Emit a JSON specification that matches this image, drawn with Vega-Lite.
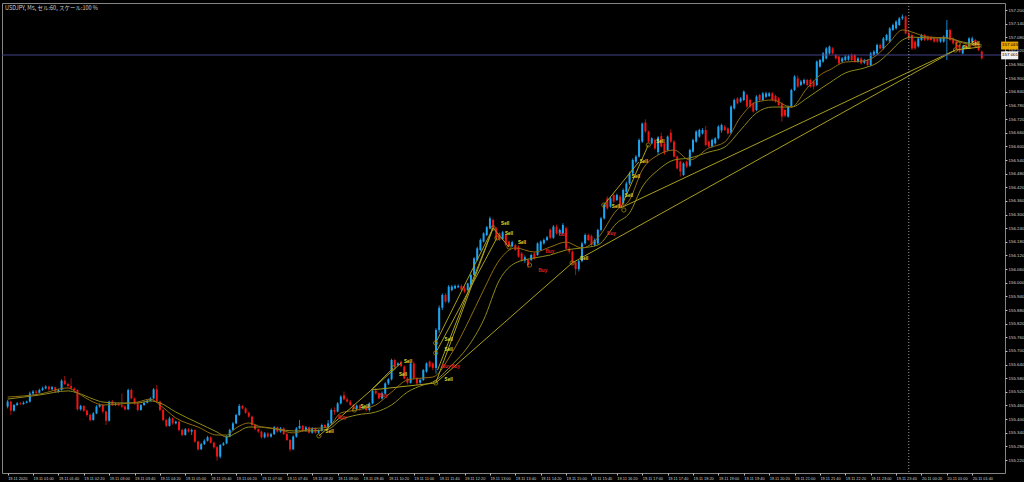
{
"$schema":"https://vega.github.io/schema/vega-lite/v6.json",
"width":1003,"height":470,
"autosize":{"type":"none"},
"padding":{"left":2,"top":3,"right":19,"bottom":9},
"background":"#000000",
"title":{"text":"USDJPY, M5, セル:60, スケール:100 %","anchor":"start","orient":"top","offset":-9,"dx":3,"fontSize":5.5,"fontWeight":"normal","font":"Noto Sans CJK JP","color":"#d0d0d0","frame":"group"},
"config":{"view":{"stroke":"#858585","strokeWidth":1},"font":"Liberation Sans","axis":{"labelOverlap":false,"labelFlush":false,"labelBound":false,"grid":false,"domain":false,"tickColor":"#bdbdbd","tickSize":2,"labelColor":"#cfcfcf","labelPadding":1,"tickCount":200},"axisX":{"labelFontSize":3.9,"labelAlign":"left"},"axisY":{"labelFontSize":4.4}},
"datasets":{
"k":[
{"i":0,"o":155.455,"c":155.477,"h":155.484,"l":155.447},
{"i":1,"o":155.477,"c":155.437,"h":155.481,"l":155.418},
{"i":2,"o":155.437,"c":155.462,"h":155.466,"l":155.433},
{"i":3,"o":155.462,"c":155.469,"h":155.475,"l":155.458},
{"i":4,"o":155.469,"c":155.466,"h":155.475,"l":155.461},
{"i":5,"o":155.466,"c":155.472,"h":155.478,"l":155.463},
{"i":6,"o":155.472,"c":155.477,"h":155.481,"l":155.469},
{"i":7,"o":155.477,"c":155.513,"h":155.521,"l":155.472},
{"i":8,"o":155.513,"c":155.521,"h":155.528,"l":155.506},
{"i":9,"o":155.521,"c":155.516,"h":155.528,"l":155.510},
{"i":10,"o":155.516,"c":155.528,"h":155.534,"l":155.513},
{"i":11,"o":155.528,"c":155.535,"h":155.543,"l":155.524},
{"i":12,"o":155.535,"c":155.543,"h":155.549,"l":155.531},
{"i":13,"o":155.543,"c":155.531,"h":155.547,"l":155.525},
{"i":14,"o":155.531,"c":155.540,"h":155.546,"l":155.528},
{"i":15,"o":155.540,"c":155.521,"h":155.543,"l":155.516},
{"i":16,"o":155.521,"c":155.528,"h":155.534,"l":155.516},
{"i":17,"o":155.528,"c":155.569,"h":155.575,"l":155.525},
{"i":18,"o":155.569,"c":155.554,"h":155.590,"l":155.550},
{"i":19,"o":155.554,"c":155.546,"h":155.560,"l":155.540},
{"i":20,"o":155.546,"c":155.535,"h":155.579,"l":155.531},
{"i":21,"o":155.535,"c":155.528,"h":155.540,"l":155.521},
{"i":22,"o":155.528,"c":155.443,"h":155.531,"l":155.437},
{"i":23,"o":155.443,"c":155.458,"h":155.463,"l":155.437},
{"i":24,"o":155.458,"c":155.437,"h":155.461,"l":155.431},
{"i":25,"o":155.437,"c":155.418,"h":155.443,"l":155.411},
{"i":26,"o":155.418,"c":155.396,"h":155.425,"l":155.389},
{"i":27,"o":155.396,"c":155.425,"h":155.431,"l":155.393},
{"i":28,"o":155.425,"c":155.455,"h":155.461,"l":155.422},
{"i":29,"o":155.455,"c":155.462,"h":155.469,"l":155.450},
{"i":30,"o":155.462,"c":155.433,"h":155.466,"l":155.425},
{"i":31,"o":155.433,"c":155.393,"h":155.437,"l":155.374},
{"i":32,"o":155.393,"c":155.477,"h":155.481,"l":155.389},
{"i":33,"o":155.477,"c":155.462,"h":155.484,"l":155.458},
{"i":34,"o":155.462,"c":155.466,"h":155.472,"l":155.458},
{"i":35,"o":155.466,"c":155.461,"h":155.472,"l":155.456},
{"i":36,"o":155.461,"c":155.455,"h":155.513,"l":155.449},
{"i":37,"o":155.455,"c":155.443,"h":155.461,"l":155.437},
{"i":38,"o":155.443,"c":155.528,"h":155.534,"l":155.440},
{"i":39,"o":155.528,"c":155.491,"h":155.535,"l":155.487},
{"i":40,"o":155.491,"c":155.469,"h":155.496,"l":155.463},
{"i":41,"o":155.469,"c":155.440,"h":155.475,"l":155.434},
{"i":42,"o":155.440,"c":155.462,"h":155.466,"l":155.437},
{"i":43,"o":155.462,"c":155.472,"h":155.477,"l":155.458},
{"i":44,"o":155.472,"c":155.481,"h":155.487,"l":155.469},
{"i":45,"o":155.481,"c":155.491,"h":155.496,"l":155.477},
{"i":46,"o":155.491,"c":155.531,"h":155.537,"l":155.487},
{"i":47,"o":155.531,"c":155.477,"h":155.550,"l":155.472},
{"i":48,"o":155.477,"c":155.440,"h":155.481,"l":155.434},
{"i":49,"o":155.440,"c":155.396,"h":155.446,"l":155.390},
{"i":50,"o":155.396,"c":155.370,"h":155.402,"l":155.364},
{"i":51,"o":155.370,"c":155.403,"h":155.411,"l":155.367},
{"i":52,"o":155.403,"c":155.381,"h":155.408,"l":155.375},
{"i":53,"o":155.381,"c":155.389,"h":155.393,"l":155.377},
{"i":54,"o":155.389,"c":155.352,"h":155.393,"l":155.346},
{"i":55,"o":155.352,"c":155.330,"h":155.358,"l":155.324},
{"i":56,"o":155.330,"c":155.355,"h":155.361,"l":155.327},
{"i":57,"o":155.355,"c":155.345,"h":155.361,"l":155.340},
{"i":58,"o":155.345,"c":155.352,"h":155.358,"l":155.330},
{"i":59,"o":155.352,"c":155.301,"h":155.355,"l":155.296},
{"i":60,"o":155.301,"c":155.267,"h":155.305,"l":155.261},
{"i":61,"o":155.267,"c":155.290,"h":155.296,"l":155.264},
{"i":62,"o":155.290,"c":155.305,"h":155.311,"l":155.286},
{"i":63,"o":155.305,"c":155.320,"h":155.326,"l":155.301},
{"i":64,"o":155.320,"c":155.296,"h":155.324,"l":155.292},
{"i":65,"o":155.296,"c":155.276,"h":155.301,"l":155.270},
{"i":66,"o":155.276,"c":155.235,"h":155.282,"l":155.217},
{"i":67,"o":155.235,"c":155.286,"h":155.290,"l":155.227},
{"i":68,"o":155.286,"c":155.293,"h":155.299,"l":155.282},
{"i":69,"o":155.293,"c":155.323,"h":155.329,"l":155.290},
{"i":70,"o":155.323,"c":155.352,"h":155.358,"l":155.320},
{"i":71,"o":155.352,"c":155.381,"h":155.387,"l":155.349},
{"i":72,"o":155.381,"c":155.418,"h":155.424,"l":155.378},
{"i":73,"o":155.418,"c":155.458,"h":155.466,"l":155.414},
{"i":74,"o":155.458,"c":155.447,"h":155.462,"l":155.443},
{"i":75,"o":155.447,"c":155.428,"h":155.452,"l":155.424},
{"i":76,"o":155.428,"c":155.411,"h":155.433,"l":155.406},
{"i":77,"o":155.411,"c":155.374,"h":155.415,"l":155.370},
{"i":78,"o":155.374,"c":155.355,"h":155.378,"l":155.351},
{"i":79,"o":155.355,"c":155.345,"h":155.359,"l":155.340},
{"i":80,"o":155.345,"c":155.320,"h":155.349,"l":155.314},
{"i":81,"o":155.320,"c":155.337,"h":155.343,"l":155.315},
{"i":82,"o":155.337,"c":155.323,"h":155.342,"l":155.318},
{"i":83,"o":155.323,"c":155.334,"h":155.340,"l":155.318},
{"i":84,"o":155.334,"c":155.364,"h":155.370,"l":155.330},
{"i":85,"o":155.364,"c":155.345,"h":155.368,"l":155.340},
{"i":86,"o":155.345,"c":155.359,"h":155.365,"l":155.340},
{"i":87,"o":155.359,"c":155.334,"h":155.364,"l":155.330},
{"i":88,"o":155.334,"c":155.308,"h":155.339,"l":155.304},
{"i":89,"o":155.308,"c":155.267,"h":155.312,"l":155.257},
{"i":90,"o":155.267,"c":155.323,"h":155.329,"l":155.264},
{"i":91,"o":155.323,"c":155.359,"h":155.365,"l":155.318},
{"i":92,"o":155.359,"c":155.370,"h":155.396,"l":155.355},
{"i":93,"o":155.370,"c":155.349,"h":155.374,"l":155.345},
{"i":94,"o":155.349,"c":155.364,"h":155.370,"l":155.345},
{"i":95,"o":155.364,"c":155.340,"h":155.368,"l":155.336},
{"i":96,"o":155.340,"c":155.359,"h":155.365,"l":155.336},
{"i":97,"o":155.359,"c":155.340,"h":155.364,"l":155.336},
{"i":98,"o":155.340,"c":155.349,"h":155.355,"l":155.336},
{"i":99,"o":155.349,"c":155.374,"h":155.380,"l":155.345},
{"i":100,"o":155.374,"c":155.364,"h":155.378,"l":155.359},
{"i":101,"o":155.364,"c":155.381,"h":155.396,"l":155.359},
{"i":102,"o":155.381,"c":155.440,"h":155.447,"l":155.374},
{"i":103,"o":155.440,"c":155.433,"h":155.452,"l":155.418},
{"i":104,"o":155.433,"c":155.469,"h":155.475,"l":155.430},
{"i":105,"o":155.469,"c":155.499,"h":155.505,"l":155.465},
{"i":106,"o":155.505,"c":155.487,"h":155.521,"l":155.483},
{"i":107,"o":155.487,"c":155.477,"h":155.495,"l":155.472},
{"i":108,"o":155.477,"c":155.462,"h":155.484,"l":155.458},
{"i":109,"o":155.462,"c":155.445,"h":155.466,"l":155.438},
{"i":110,"o":155.445,"c":155.460,"h":155.464,"l":155.440},
{"i":111,"o":155.460,"c":155.447,"h":155.464,"l":155.436},
{"i":112,"o":155.447,"c":155.452,"h":155.458,"l":155.442},
{"i":113,"o":155.452,"c":155.440,"h":155.458,"l":155.433},
{"i":114,"o":155.440,"c":155.469,"h":155.474,"l":155.433},
{"i":115,"o":155.469,"c":155.524,"h":155.530,"l":155.465},
{"i":116,"o":155.524,"c":155.513,"h":155.536,"l":155.508},
{"i":117,"o":155.513,"c":155.491,"h":155.517,"l":155.487},
{"i":118,"o":155.491,"c":155.512,"h":155.521,"l":155.486},
{"i":119,"o":155.512,"c":155.557,"h":155.562,"l":155.508},
{"i":120,"o":155.557,"c":155.575,"h":155.580,"l":155.550},
{"i":121,"o":155.575,"c":155.660,"h":155.666,"l":155.570},
{"i":122,"o":155.660,"c":155.631,"h":155.665,"l":155.627},
{"i":123,"o":155.638,"c":155.645,"h":155.650,"l":155.633},
{"i":124,"o":155.652,"c":155.633,"h":155.658,"l":155.628},
{"i":125,"o":155.631,"c":155.579,"h":155.636,"l":155.574},
{"i":126,"o":155.579,"c":155.560,"h":155.585,"l":155.553},
{"i":127,"o":155.560,"c":155.645,"h":155.650,"l":155.556},
{"i":128,"o":155.645,"c":155.580,"h":155.653,"l":155.575},
{"i":129,"o":155.580,"c":155.557,"h":155.585,"l":155.550},
{"i":130,"o":155.560,"c":155.572,"h":155.580,"l":155.555},
{"i":131,"o":155.572,"c":155.616,"h":155.620,"l":155.568},
{"i":132,"o":155.609,"c":155.645,"h":155.650,"l":155.604},
{"i":133,"o":155.653,"c":155.631,"h":155.658,"l":155.626},
{"i":134,"o":155.645,"c":155.625,"h":155.650,"l":155.615},
{"i":135,"o":155.625,"c":155.792,"h":155.800,"l":155.600},
{"i":136,"o":155.792,"c":155.890,"h":155.900,"l":155.780},
{"i":137,"o":155.890,"c":155.946,"h":155.953,"l":155.880},
{"i":138,"o":155.946,"c":155.917,"h":155.953,"l":155.910},
{"i":139,"o":155.917,"c":155.983,"h":155.990,"l":155.910},
{"i":140,"o":155.968,"c":155.983,"h":155.990,"l":155.962},
{"i":141,"o":155.975,"c":155.986,"h":155.992,"l":155.972},
{"i":142,"o":155.980,"c":155.986,"h":155.993,"l":155.976},
{"i":143,"o":155.986,"c":155.970,"h":155.992,"l":155.966},
{"i":144,"o":155.975,"c":155.961,"h":155.986,"l":155.955},
{"i":145,"o":155.968,"c":155.997,"h":156.000,"l":155.963},
{"i":146,"o":155.993,"c":156.034,"h":156.040,"l":155.990},
{"i":147,"o":156.034,"c":156.107,"h":156.113,"l":156.030},
{"i":148,"o":156.100,"c":156.151,"h":156.158,"l":156.095},
{"i":149,"o":156.144,"c":156.188,"h":156.195,"l":156.140},
{"i":150,"o":156.181,"c":156.217,"h":156.222,"l":156.177},
{"i":151,"o":156.210,"c":156.244,"h":156.250,"l":156.205},
{"i":152,"o":156.239,"c":156.283,"h":156.291,"l":156.235},
{"i":153,"o":156.276,"c":156.239,"h":156.283,"l":156.235},
{"i":154,"o":156.239,"c":156.195,"h":156.245,"l":156.190},
{"i":155,"o":156.217,"c":156.188,"h":156.222,"l":156.183},
{"i":156,"o":156.192,"c":156.222,"h":156.228,"l":156.188},
{"i":157,"o":156.210,"c":156.166,"h":156.215,"l":156.160},
{"i":158,"o":156.181,"c":156.159,"h":156.186,"l":156.155},
{"i":159,"o":156.160,"c":156.178,"h":156.185,"l":156.156},
{"i":160,"o":156.166,"c":156.144,"h":156.172,"l":156.140},
{"i":161,"o":156.159,"c":156.115,"h":156.164,"l":156.110},
{"i":162,"o":156.129,"c":156.100,"h":156.135,"l":156.093},
{"i":163,"o":156.098,"c":156.112,"h":156.120,"l":156.088},
{"i":164,"o":156.100,"c":156.078,"h":156.105,"l":156.065},
{"i":165,"o":156.100,"c":156.122,"h":156.128,"l":156.095},
{"i":166,"o":156.129,"c":156.107,"h":156.135,"l":156.102},
{"i":167,"o":156.122,"c":156.173,"h":156.178,"l":156.118},
{"i":168,"o":156.144,"c":156.181,"h":156.186,"l":156.140},
{"i":169,"o":156.173,"c":156.188,"h":156.195,"l":156.168},
{"i":170,"o":156.188,"c":156.200,"h":156.206,"l":156.183},
{"i":171,"o":156.234,"c":156.198,"h":156.239,"l":156.192},
{"i":172,"o":156.198,"c":156.247,"h":156.254,"l":156.193},
{"i":173,"o":156.247,"c":156.217,"h":156.256,"l":156.212},
{"i":174,"o":156.217,"c":156.232,"h":156.238,"l":156.210},
{"i":175,"o":156.217,"c":156.254,"h":156.262,"l":156.212},
{"i":176,"o":156.240,"c":156.150,"h":156.247,"l":156.145},
{"i":177,"o":156.150,"c":156.137,"h":156.158,"l":156.128},
{"i":178,"o":156.137,"c":156.088,"h":156.142,"l":156.080},
{"i":179,"o":156.090,"c":156.060,"h":156.095,"l":156.034},
{"i":180,"o":156.060,"c":156.095,"h":156.100,"l":156.050},
{"i":181,"o":156.095,"c":156.173,"h":156.180,"l":156.090},
{"i":182,"o":156.173,"c":156.210,"h":156.217,"l":156.168},
{"i":183,"o":156.210,"c":156.188,"h":156.216,"l":156.183},
{"i":184,"o":156.205,"c":156.166,"h":156.212,"l":156.160},
{"i":185,"o":156.166,"c":156.188,"h":156.195,"l":156.160},
{"i":186,"o":156.173,"c":156.232,"h":156.238,"l":156.168},
{"i":187,"o":156.232,"c":156.283,"h":156.290,"l":156.226},
{"i":188,"o":156.283,"c":156.342,"h":156.349,"l":156.278},
{"i":189,"o":156.371,"c":156.327,"h":156.380,"l":156.322},
{"i":190,"o":156.335,"c":156.371,"h":156.378,"l":156.330},
{"i":191,"o":156.386,"c":156.357,"h":156.395,"l":156.350},
{"i":192,"o":156.364,"c":156.386,"h":156.392,"l":156.360},
{"i":193,"o":156.379,"c":156.335,"h":156.386,"l":156.330},
{"i":194,"o":156.349,"c":156.408,"h":156.415,"l":156.342},
{"i":195,"o":156.400,"c":156.437,"h":156.445,"l":156.395},
{"i":196,"o":156.437,"c":156.481,"h":156.489,"l":156.430},
{"i":197,"o":156.481,"c":156.540,"h":156.547,"l":156.475},
{"i":198,"o":156.533,"c":156.555,"h":156.562,"l":156.525},
{"i":199,"o":156.555,"c":156.628,"h":156.635,"l":156.550},
{"i":200,"o":156.621,"c":156.700,"h":156.705,"l":156.615},
{"i":201,"o":156.705,"c":156.665,"h":156.719,"l":156.660},
{"i":202,"o":156.665,"c":156.621,"h":156.670,"l":156.615},
{"i":203,"o":156.613,"c":156.635,"h":156.640,"l":156.608},
{"i":204,"o":156.628,"c":156.591,"h":156.635,"l":156.585},
{"i":205,"o":156.575,"c":156.640,"h":156.645,"l":156.562},
{"i":206,"o":156.645,"c":156.599,"h":156.660,"l":156.594},
{"i":207,"o":156.613,"c":156.569,"h":156.618,"l":156.563},
{"i":208,"o":156.584,"c":156.643,"h":156.648,"l":156.578},
{"i":209,"o":156.660,"c":156.621,"h":156.675,"l":156.615},
{"i":210,"o":156.621,"c":156.555,"h":156.627,"l":156.550},
{"i":211,"o":156.555,"c":156.503,"h":156.560,"l":156.498},
{"i":212,"o":156.533,"c":156.489,"h":156.538,"l":156.467},
{"i":213,"o":156.474,"c":156.525,"h":156.530,"l":156.470},
{"i":214,"o":156.533,"c":156.511,"h":156.538,"l":156.505},
{"i":215,"o":156.515,"c":156.584,"h":156.590,"l":156.510},
{"i":216,"o":156.577,"c":156.628,"h":156.634,"l":156.572},
{"i":217,"o":156.621,"c":156.665,"h":156.671,"l":156.616},
{"i":218,"o":156.643,"c":156.672,"h":156.678,"l":156.638},
{"i":219,"o":156.657,"c":156.672,"h":156.680,"l":156.652},
{"i":220,"o":156.672,"c":156.606,"h":156.690,"l":156.600},
{"i":221,"o":156.621,"c":156.599,"h":156.626,"l":156.594},
{"i":222,"o":156.599,"c":156.628,"h":156.634,"l":156.594},
{"i":223,"o":156.613,"c":156.635,"h":156.641,"l":156.608},
{"i":224,"o":156.635,"c":156.687,"h":156.693,"l":156.630},
{"i":225,"o":156.670,"c":156.694,"h":156.700,"l":156.660},
{"i":226,"o":156.687,"c":156.672,"h":156.694,"l":156.667},
{"i":227,"o":156.679,"c":156.657,"h":156.684,"l":156.652},
{"i":228,"o":156.660,"c":156.775,"h":156.781,"l":156.655},
{"i":229,"o":156.767,"c":156.804,"h":156.810,"l":156.762},
{"i":230,"o":156.811,"c":156.789,"h":156.817,"l":156.784},
{"i":231,"o":156.797,"c":156.811,"h":156.817,"l":156.792},
{"i":232,"o":156.804,"c":156.841,"h":156.846,"l":156.799},
{"i":233,"o":156.826,"c":156.775,"h":156.832,"l":156.770},
{"i":234,"o":156.804,"c":156.775,"h":156.810,"l":156.770},
{"i":235,"o":156.789,"c":156.753,"h":156.795,"l":156.748},
{"i":236,"o":156.760,"c":156.819,"h":156.825,"l":156.755},
{"i":237,"o":156.826,"c":156.804,"h":156.831,"l":156.799},
{"i":238,"o":156.804,"c":156.833,"h":156.839,"l":156.799},
{"i":239,"o":156.818,"c":156.833,"h":156.840,"l":156.812},
{"i":240,"o":156.822,"c":156.833,"h":156.839,"l":156.817},
{"i":241,"o":156.833,"c":156.804,"h":156.839,"l":156.799},
{"i":242,"o":156.822,"c":156.797,"h":156.827,"l":156.792},
{"i":243,"o":156.811,"c":156.782,"h":156.817,"l":156.777},
{"i":244,"o":156.789,"c":156.731,"h":156.794,"l":156.709},
{"i":245,"o":156.760,"c":156.735,"h":156.765,"l":156.728},
{"i":246,"o":156.731,"c":156.775,"h":156.780,"l":156.726},
{"i":247,"o":156.775,"c":156.848,"h":156.853,"l":156.770},
{"i":248,"o":156.848,"c":156.907,"h":156.913,"l":156.843},
{"i":249,"o":156.899,"c":156.863,"h":156.912,"l":156.858},
{"i":250,"o":156.870,"c":156.885,"h":156.892,"l":156.865},
{"i":251,"o":156.877,"c":156.892,"h":156.898,"l":156.872},
{"i":252,"o":156.892,"c":156.870,"h":156.897,"l":156.865},
{"i":253,"o":156.892,"c":156.863,"h":156.898,"l":156.858},
{"i":254,"o":156.885,"c":156.863,"h":156.890,"l":156.850},
{"i":255,"o":156.870,"c":156.973,"h":156.978,"l":156.865},
{"i":256,"o":156.951,"c":156.980,"h":156.985,"l":156.946},
{"i":257,"o":156.973,"c":157.009,"h":157.015,"l":156.968},
{"i":258,"o":156.987,"c":157.031,"h":157.037,"l":156.982},
{"i":259,"o":157.009,"c":157.039,"h":157.044,"l":157.004},
{"i":260,"o":157.031,"c":157.009,"h":157.037,"l":157.004},
{"i":261,"o":157.002,"c":156.987,"h":157.008,"l":156.982},
{"i":262,"o":156.995,"c":156.965,"h":157.000,"l":156.960},
{"i":263,"o":156.973,"c":156.987,"h":156.993,"l":156.968},
{"i":264,"o":156.980,"c":156.995,"h":157.002,"l":156.975},
{"i":265,"o":156.982,"c":156.997,"h":157.004,"l":156.977},
{"i":266,"o":157.002,"c":156.980,"h":157.010,"l":156.975},
{"i":267,"o":157.002,"c":156.973,"h":157.007,"l":156.968},
{"i":268,"o":156.973,"c":156.987,"h":156.993,"l":156.968},
{"i":269,"o":156.987,"c":156.965,"h":156.993,"l":156.960},
{"i":270,"o":156.968,"c":156.978,"h":156.985,"l":156.962},
{"i":271,"o":156.980,"c":156.958,"h":156.985,"l":156.950},
{"i":272,"o":156.958,"c":157.009,"h":157.015,"l":156.953},
{"i":273,"o":157.002,"c":157.017,"h":157.023,"l":156.997},
{"i":274,"o":157.009,"c":157.046,"h":157.052,"l":157.004},
{"i":275,"o":157.046,"c":157.031,"h":157.052,"l":157.026},
{"i":276,"o":157.031,"c":157.075,"h":157.081,"l":157.026},
{"i":277,"o":157.068,"c":157.090,"h":157.095,"l":157.063},
{"i":278,"o":157.061,"c":157.119,"h":157.125,"l":157.056},
{"i":279,"o":157.112,"c":157.134,"h":157.140,"l":157.107},
{"i":280,"o":157.119,"c":157.149,"h":157.155,"l":157.114},
{"i":281,"o":157.134,"c":157.163,"h":157.169,"l":157.129},
{"i":282,"o":157.163,"c":157.171,"h":157.180,"l":157.156},
{"i":283,"o":157.171,"c":157.097,"h":157.176,"l":157.092},
{"i":284,"o":157.097,"c":157.075,"h":157.112,"l":157.068},
{"i":285,"o":157.090,"c":157.031,"h":157.097,"l":157.024},
{"i":286,"o":157.061,"c":157.031,"h":157.066,"l":157.026},
{"i":287,"o":157.040,"c":157.075,"h":157.080,"l":157.035},
{"i":288,"o":157.068,"c":157.090,"h":157.095,"l":157.063},
{"i":289,"o":157.090,"c":157.068,"h":157.095,"l":157.063},
{"i":290,"o":157.083,"c":157.068,"h":157.088,"l":157.063},
{"i":291,"o":157.080,"c":157.068,"h":157.086,"l":157.062},
{"i":292,"o":157.075,"c":157.061,"h":157.080,"l":157.056},
{"i":293,"o":157.073,"c":157.061,"h":157.078,"l":157.055},
{"i":294,"o":157.061,"c":157.075,"h":157.080,"l":157.056},
{"i":295,"o":157.061,"c":157.083,"h":157.088,"l":157.056},
{"i":296,"o":157.075,"c":157.112,"h":157.156,"l":156.980},
{"i":297,"o":157.112,"c":157.068,"h":157.118,"l":157.063},
{"i":298,"o":157.075,"c":157.053,"h":157.080,"l":157.048},
{"i":299,"o":157.061,"c":157.031,"h":157.066,"l":157.026},
{"i":300,"o":157.046,"c":157.017,"h":157.051,"l":157.012},
{"i":301,"o":157.009,"c":157.039,"h":157.044,"l":157.004},
{"i":302,"o":157.046,"c":157.036,"h":157.051,"l":157.031},
{"i":303,"o":157.046,"c":157.075,"h":157.080,"l":157.041},
{"i":304,"o":157.061,"c":157.075,"h":157.083,"l":157.056},
{"i":305,"o":157.068,"c":157.039,"h":157.073,"l":157.034},
{"i":306,"o":157.053,"c":157.024,"h":157.058,"l":157.019},
{"i":307,"o":157.017,"c":156.987,"h":157.022,"l":156.982}
],
"ma":[
{"i":0,"f":155.497,"s":155.488},{"i":10,"f":155.510,"s":155.506},{"i":19,"f":155.537,"s":155.524},{"i":22,"f":155.515,"s":155.515},{"i":27,"f":155.475,"s":155.488},{"i":30,"f":155.462,"s":155.475},{"i":35,"f":155.466,"s":155.471},{"i":41,"f":155.475,"s":155.471},{"i":45,"f":155.488,"s":155.480},{"i":48,"f":155.462,"s":155.471},{"i":53,"f":155.405,"s":155.431},{"i":60,"f":155.365,"s":155.383},{"i":66,"f":155.330,"s":155.343},{"i":69,"f":155.330,"s":155.321},{"i":72,"f":155.361,"s":155.339},{"i":76,"f":155.383,"s":155.365},{"i":80,"f":155.365,"s":155.365},{"i":85,"f":155.356,"s":155.356},{"i":90,"f":155.339,"s":155.348},{"i":95,"f":155.356,"s":155.348},{"i":101,"f":155.365,"s":155.356},{"i":105,"f":155.427,"s":155.396},{"i":110,"f":155.440,"s":155.418},{"i":116,"f":155.462,"s":155.431},{"i":121,"f":155.519,"s":155.462},{"i":126,"f":155.572,"s":155.519},{"i":131,"f":155.581,"s":155.550},{"i":134,"f":155.585,"s":155.563},{"i":140,"f":155.691,"s":155.638},{"i":145,"f":155.823,"s":155.717},{"i":150,"f":155.968,"s":155.836},{"i":155,"f":156.100,"s":156.012},{"i":160,"f":156.153,"s":156.087},{"i":166,"f":156.135,"s":156.109},{"i":171,"f":156.157,"s":156.122},{"i":176,"f":156.179,"s":156.144},{"i":181,"f":156.153,"s":156.153},{"i":186,"f":156.197,"s":156.166},{"i":192,"f":156.320,"s":156.263},{"i":196,"f":156.364,"s":156.307},{"i":200,"f":156.496,"s":156.421},{"i":205,"f":156.562,"s":156.496},{"i":210,"f":156.584,"s":156.540},{"i":215,"f":156.540,"s":156.549},{"i":221,"f":156.593,"s":156.575},{"i":226,"f":156.619,"s":156.597},{"i":231,"f":156.729,"s":156.672},{"i":236,"f":156.795,"s":156.747},{"i":241,"f":156.804,"s":156.773},{"i":247,"f":156.773,"s":156.773},{"i":252,"f":156.857,"s":156.813},{"i":257,"f":156.923,"s":156.861},{"i":259,"f":156.936,"s":156.879},{"i":264,"f":156.971,"s":156.923},{"i":270,"f":156.976,"s":156.945},{"i":274,"f":157.002,"s":156.967},{"i":278,"f":157.059,"s":157.015},{"i":282,"f":157.112,"s":157.068},{"i":285,"f":157.103,"s":157.081},{"i":290,"f":157.081,"s":157.077},{"i":296,"f":157.077,"s":157.077},{"i":301,"f":157.055,"s":157.059},{"i":307,"f":157.037,"s":157.046}
],
"tl":[
{"g":1,"i":134.9,"p":155.559},{"g":1,"i":177.9,"p":156.087},
{"g":2,"i":177.9,"p":156.087},{"g":2,"i":298.7,"p":157.024},
{"g":3,"i":193.2,"p":156.329},{"g":3,"i":298.7,"p":157.024},
{"g":4,"i":134.9,"p":155.559},{"g":4,"i":153,"p":156.241},
{"g":5,"i":135.5,"p":155.616},{"g":5,"i":153,"p":156.241},
{"g":6,"i":134.9,"p":155.691},{"g":6,"i":154.2,"p":156.197},
{"g":7,"i":134.9,"p":155.735},{"g":7,"i":153,"p":156.241},
{"g":8,"i":98.1,"p":155.326},{"g":8,"i":114.6,"p":155.528},
{"g":9,"i":114.6,"p":155.528},{"g":9,"i":124,"p":155.647},
{"g":10,"i":114.6,"p":155.528},{"g":10,"i":121.5,"p":155.625},
{"g":11,"i":114.6,"p":155.528},{"g":11,"i":134.9,"p":155.559},
{"g":12,"i":193.2,"p":156.329},{"g":12,"i":201.9,"p":156.606},
{"g":13,"i":187.9,"p":156.342},{"g":13,"i":198.9,"p":156.531},
{"g":14,"i":153,"p":156.241},{"g":14,"i":158,"p":156.157},
{"g":15,"i":298.7,"p":157.024},{"g":15,"i":306.5,"p":157.037}
],
"cir":[
{"i":98.1,"p":155.326},{"i":109.3,"p":155.440},{"i":121.5,"p":155.625},{"i":134.9,"p":155.559},{"i":134.9,"p":155.691},{"i":134.9,"p":155.735},{"i":153,"p":156.241},{"i":154.2,"p":156.197},{"i":158,"p":156.157},{"i":164.5,"p":156.078},{"i":177.9,"p":156.087},{"i":187.9,"p":156.342},{"i":194.2,"p":156.320},{"i":201.9,"p":156.606},{"i":298.7,"p":157.024},{"i":299.6,"p":157.050}
],
"lab":[
{"i":99.9,"p":155.343,"t":"Sell"},{"i":103.7,"p":155.405,"t":"Buy"},{"i":110.9,"p":155.453,"t":"Sell"},{"i":116.8,"p":155.502,"t":"Buy"},{"i":123,"p":155.594,"t":"Sell"},{"i":124.6,"p":155.651,"t":"Sell"},{"i":137.4,"p":155.572,"t":"Sell"},{"i":136.5,"p":155.629,"t":"Buy"},{"i":139.5,"p":155.629,"t":"Buy"},{"i":137.4,"p":155.704,"t":"Sell"},{"i":137.4,"p":155.748,"t":"Sell"},{"i":155.2,"p":156.258,"t":"Sell"},{"i":156.4,"p":156.214,"t":"Sell"},{"i":160.5,"p":156.175,"t":"Sell"},{"i":169.2,"p":156.135,"t":"Buy"},{"i":167,"p":156.052,"t":"Buy"},{"i":173.3,"p":156.210,"t":"Buy"},{"i":180.1,"p":156.104,"t":"Sell"},{"i":188.6,"p":156.214,"t":"Buy"},{"i":190.1,"p":156.333,"t":"Sell"},{"i":194.2,"p":156.382,"t":"Sell"},{"i":196.4,"p":156.465,"t":"Sell"},{"i":198.9,"p":156.531,"t":"Sell"},{"i":204.1,"p":156.619,"t":"Sell"},{"i":300.6,"p":157.033,"t":"Sell"},{"i":303.4,"p":157.050,"t":"Sell"}
],
"box":[
{"i":313.1,"i2":318.5,"lo":157.026,"hi":157.061,"m":157.044,"v":"157.043","b":"y"},
{"i":313.1,"i2":318.5,"lo":156.983,"hi":157.018,"m":157.001,"v":"157.001","b":"w"}
]
},
"layer":[
{"data":{"name":"k"},"mark":{"type":"rule","strokeWidth":1},
 "encoding":{
  "x":{"field":"i","type":"quantitative","title":null,"scale":{"domain":[-0.2,312.75],"nice":false,"zero":false},
   "axis":{"values":[0,8,16,24,32,40,48,56,64,72,80,88,96,104,112,120,128,136,144,152,160,168,176,184,192,200,208,216,224,232,240,248,256,264,272,280,288,296,304],
    "labelExpr":"datum.value == 0 ? '19.11 2020' : timeFormat(datetime(2020,10,19,0,20+datum.value*5),'%d.%m %H:%M')",
    "labelFontSize":3.9,"labelAlign":"left","labelOverlap":false,"tickCount":200}},
  "y":{"field":"l","type":"quantitative","title":null,"scale":{"domain":[155.1628,157.2308],"nice":false,"zero":false},
   "axis":{"orient":"right","values":[155.22,155.28,155.34,155.40,155.46,155.52,155.58,155.64,155.70,155.76,155.82,155.88,155.94,156.00,156.06,156.12,156.18,156.24,156.30,156.36,156.42,156.48,156.54,156.60,156.66,156.72,156.78,156.84,156.90,156.96,157.02,157.08,157.14,157.20],
    "format":".3f","labelFontSize":4.4,"labelOverlap":false,"tickCount":200}},
  "y2":{"field":"h"},
  "color":{"condition":{"test":"datum.c >= datum.o","value":"#1883c4"},"value":"#a31212"}
 }},
{"data":{"name":"k"},"mark":{"type":"bar","size":2},
 "encoding":{
  "x":{"field":"i","type":"quantitative","title":null},
  "y":{"field":"o","type":"quantitative","title":null},
  "y2":{"field":"c"},
  "color":{"condition":{"test":"datum.c >= datum.o","value":"#1ea4ee"},"value":"#f01414"}
 }},
{"data":{"name":"ma"},"mark":{"type":"line","strokeWidth":1,"interpolate":"monotone","color":"#8e8a1c"},
 "encoding":{"x":{"field":"i","type":"quantitative","title":null},"y":{"field":"s","type":"quantitative","title":null}}},
{"data":{"name":"ma"},"mark":{"type":"line","strokeWidth":1,"interpolate":"monotone","color":"#8f6c12"},
 "encoding":{"x":{"field":"i","type":"quantitative","title":null},"y":{"field":"f","type":"quantitative","title":null}}},
{"data":{"name":"tl"},"mark":{"type":"line","strokeWidth":1,"color":"#a89e1e"},
 "encoding":{"x":{"field":"i","type":"quantitative","title":null},"y":{"field":"p","type":"quantitative","title":null},"detail":{"field":"g","type":"nominal"}}},
{"data":{"values":[{"p":157.002}]},"mark":{"type":"rule","strokeWidth":1,"color":"#42428c"},
 "encoding":{"y":{"field":"p","type":"quantitative","title":null}}},
{"data":{"values":[{"i":284}]},"mark":{"type":"rule","strokeWidth":1,"color":"#9a9a9a","strokeDash":[1,2]},
 "encoding":{"x":{"field":"i","type":"quantitative","title":null}}},
{"data":{"name":"cir"},"mark":{"type":"point","shape":"circle","filled":false,"size":18,"strokeWidth":1,"color":"#b39a10"},
 "encoding":{"x":{"field":"i","type":"quantitative","title":null},"y":{"field":"p","type":"quantitative","title":null}}},
{"data":{"name":"lab"},"mark":{"type":"text","fontSize":4.6,"fontWeight":"bold","align":"left","baseline":"middle","dx":1},
 "encoding":{"x":{"field":"i","type":"quantitative","title":null},"y":{"field":"p","type":"quantitative","title":null},"text":{"field":"t"},
  "color":{"condition":{"test":"datum.t == 'Sell'","value":"#e0dc30"},"value":"#e02020"}}},
{"data":{"name":"box"},"mark":{"type":"rect"},
 "encoding":{"x":{"field":"i","type":"quantitative","title":null},"x2":{"field":"i2"},"y":{"field":"lo","type":"quantitative","title":null},"y2":{"field":"hi"},
  "color":{"condition":{"test":"datum.b == 'y'","value":"#e8a800"},"value":"#f2f2f2"}}},
{"data":{"name":"box"},"mark":{"type":"text","fontSize":4.4,"align":"left","baseline":"middle","dx":1,"color":"#000000"},
 "encoding":{"x":{"field":"i","type":"quantitative","title":null},"y":{"field":"m","type":"quantitative","title":null},"text":{"field":"v"}}}
]
}
